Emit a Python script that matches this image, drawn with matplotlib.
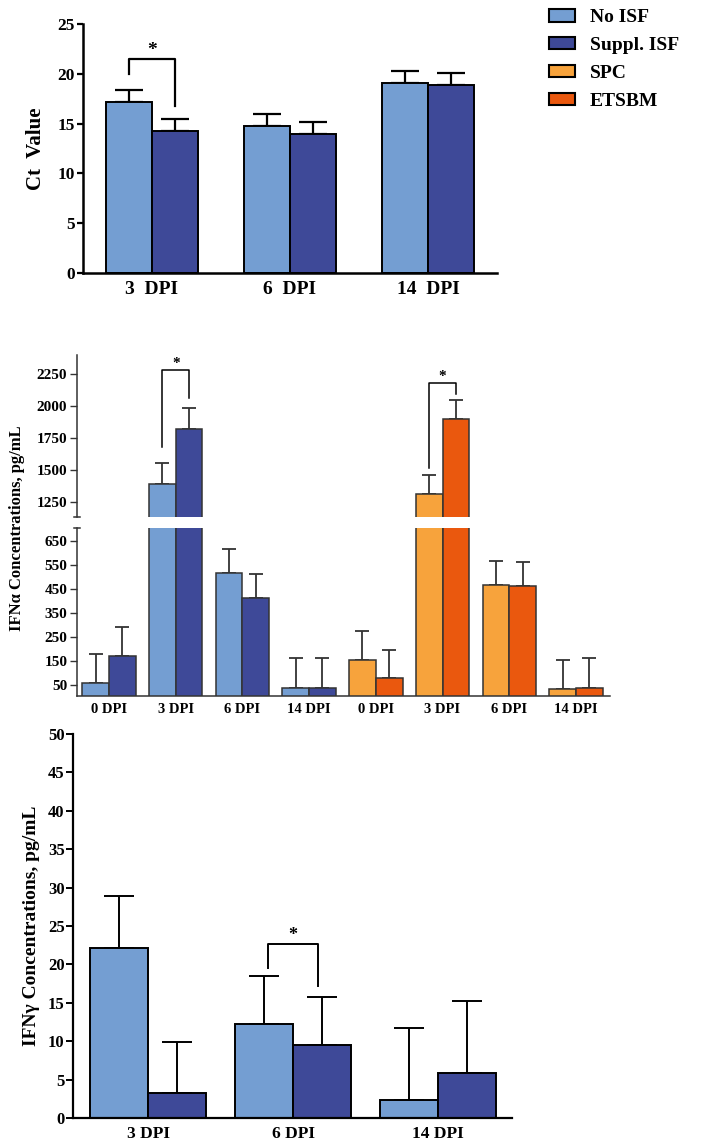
import numpy as np
import matplotlib
matplotlib.use("Agg")
import matplotlib.pyplot as plt
from matplotlib.patches import Patch

plt.rcParams['font.family'] = ['Liberation Serif', 'DejaVu Serif']
plt.rcParams['font.weight'] = 'bold'

# colours
c_noisf = '#749ED2'
c_suppl = '#3E4998'
c_spc = '#F7A33C'
c_etsbm = '#EA580E'

# ---- Ct values ----
ct_labels = ['3  DPI', '6  DPI', '14  DPI']
ct_noisf = [17.2, 14.8, 19.1]
ct_noisf_err = [1.2, 1.2, 1.2]
ct_suppl = [14.3, 14.0, 18.9]
ct_suppl_err = [1.2, 1.2, 1.2]

# ---- IFN alpha ----
ifna_labels = ['0 DPI', '3 DPI', '6 DPI', '14 DPI', '0 DPI', '3 DPI', '6 DPI', '14 DPI']
ifna_noisf = [60, 1390, 517, 37]
ifna_noisf_err = [121, 165, 100, 125]
ifna_suppl = [170, 1820, 412, 37]
ifna_suppl_err = [121, 164, 100, 125]
ifna_spc = [154, 1312, 467, 33]
ifna_spc_err = [121, 149, 100, 121]
ifna_etsbm = [78, 1898, 462, 37]
ifna_etsbm_err = [118, 149, 100, 125]

# ---- IFN gamma ----
ifng_labels = ['3 DPI', '6 DPI', '14 DPI']
ifng_noisf = [22.2, 12.2, 2.3]
ifng_noisf_err = [6.7, 6.3, 9.4]
ifng_suppl = [3.3, 9.5, 5.8]
ifng_suppl_err = [6.6, 6.2, 9.4]

fig = plt.figure(figsize=(7.14, 11.48), dpi=100)


def bracket(ax, xc, off, yl, yt, yr, lw, fs):
    ax.plot([xc - off, xc - off, xc + off, xc + off], [yl, yt, yt, yr],
            color='black', lw=lw, clip_on=False)
    ax.text(xc, yt, '*', ha='center', va='bottom', fontsize=fs, fontweight='bold')


def pair(ax, x, v1, e1, v2, e2, w, col1, col2, lw, elw, cap, ec):
    ax.bar(x - w / 2, v1, w, color=col1, edgecolor=ec, linewidth=lw, zorder=2)
    ax.bar(x + w / 2, v2, w, color=col2, edgecolor=ec, linewidth=lw, zorder=2)
    ax.errorbar(x - w / 2, v1, yerr=[np.zeros(len(v1)), e1], fmt='none',
                ecolor=ec, elinewidth=elw, capsize=cap, capthick=elw, zorder=1)
    ax.errorbar(x + w / 2, v2, yerr=[np.zeros(len(v2)), e2], fmt='none',
                ecolor=ec, elinewidth=elw, capsize=cap, capthick=elw, zorder=1)


# ================= top panel =================
ax1 = fig.add_axes([0.1162, 0.7622, 0.5798, 0.2169])
x1 = np.arange(len(ct_labels))
w1 = 0.333
pair(ax1, x1, ct_noisf, ct_noisf_err, ct_suppl, ct_suppl_err, w1,
     c_noisf, c_suppl, 1.4, 1.6, 10, 'black')
ax1.set_xlim(-0.5, 2.5)
ax1.set_ylim(0, 25)
ax1.set_yticks([0, 5, 10, 15, 20, 25])
ax1.set_xticks(x1)
ax1.set_xticklabels(ct_labels, fontsize=14, fontweight='bold')
ax1.tick_params(axis='x', length=0, pad=6)
ax1.tick_params(axis='y', length=4, width=1.6, labelsize=12.5, pad=2)
for s in ['top', 'right']:
    ax1.spines[s].set_visible(False)
for s in ['left', 'bottom']:
    ax1.spines[s].set_linewidth(1.8)
ax1.set_ylabel('Ct  Value', fontsize=15, fontweight='bold', labelpad=8)
bracket(ax1, x1[0], 0.17, 20.0, 21.5, 16.8, 1.6, 14)

# ================= middle panel (broken axis) =================
ax_up = fig.add_axes([0.1078, 0.5497, 0.7465, 0.1411])
ax_lo = fig.add_axes([0.1078, 0.3937, 0.7465, 0.1463])
x2 = np.arange(len(ifna_labels))
w2 = 0.4
xb = x2[:4]
xo = x2[4:]
for ax in (ax_up, ax_lo):
    pair(ax, xb, ifna_noisf, ifna_noisf_err, ifna_suppl, ifna_suppl_err, w2,
         c_noisf, c_suppl, 1.1, 1.3, 5, '#333333')
    pair(ax, xo, ifna_spc, ifna_spc_err, ifna_etsbm, ifna_etsbm_err, w2,
         c_spc, c_etsbm, 1.1, 1.3, 5, '#333333')
    ax.set_xlim(-0.48, 7.51)
    for s in ['top', 'right']:
        ax.spines[s].set_visible(False)
    for s in ['left', 'bottom']:
        ax.spines[s].set_linewidth(1.1)
        ax.spines[s].set_color('#333333')
    ax.tick_params(axis='y', length=5, width=1.0, color='#333333', labelsize=11, pad=2)

ax_up.set_ylim(1133, 2398)
ax_up.set_yticks([1250, 1500, 1750, 2000, 2250])
ax_up.spines['bottom'].set_visible(False)
ax_up.set_xticks([])
ax_lo.set_ylim(4, 704)
ax_lo.set_yticks([50, 150, 250, 350, 450, 550, 650])
ax_lo.set_xticks(x2)
ax_lo.set_xticklabels(ifna_labels, fontsize=10.5, fontweight='bold')
ax_lo.tick_params(axis='x', length=0, pad=5)
# break caps on the spine
ax_up.plot([-0.006, 0.006], [0, 0], transform=ax_up.transAxes, color='#333333',
           lw=1.1, clip_on=False)
ax_lo.plot([-0.006, 0.006], [1, 1], transform=ax_lo.transAxes, color='#333333',
           lw=1.1, clip_on=False)
bracket(ax_up, xb[1], 0.2, 1680, 2281, 2062, 1.1, 11)
bracket(ax_up, xo[1], 0.2, 1515, 2180, 2094, 1.1, 11)
fig.text(0.024, 0.54, 'IFN\u03b1 Concentrations, pg/mL', rotation=90,
         ha='center', va='center', fontsize=12, fontweight='bold')

# ================= bottom panel =================
ax3 = fig.add_axes([0.1022, 0.0261, 0.6148, 0.3345])
x3 = np.arange(len(ifng_labels))
w3 = 0.4
pair(ax3, x3, ifng_noisf, ifng_noisf_err, ifng_suppl, ifng_suppl_err, w3,
     c_noisf, c_suppl, 1.4, 1.4, 11, 'black')
ax3.set_xlim(-0.52, 2.51)
ax3.set_ylim(0, 50)
ax3.set_yticks(np.arange(0, 51, 5))
ax3.set_xticks(x3)
ax3.set_xticklabels(ifng_labels, fontsize=12.5, fontweight='bold')
ax3.tick_params(axis='x', length=0, pad=6)
ax3.tick_params(axis='y', length=5, width=1.4, labelsize=12, pad=1)
for s in ['top', 'right']:
    ax3.spines[s].set_visible(False)
for s in ['left', 'bottom']:
    ax3.spines[s].set_linewidth(1.6)
ax3.set_ylabel('IFN\u03b3 Concentrations, pg/mL', fontsize=14, fontweight='bold', labelpad=6)
bracket(ax3, x3[1], 0.172, 19.6, 22.7, 17.2, 1.4, 13)

# ================= legend =================
handles = [Patch(facecolor=c, edgecolor='black', linewidth=1.5)
           for c in (c_noisf, c_suppl, c_spc, c_etsbm)]
fig.legend(handles, ['No ISF', 'Suppl. ISF', 'SPC', 'ETSBM'],
           loc='upper left', bbox_to_anchor=(549 / 714, 1 - 9 / 1148),
           frameon=False, borderpad=0, borderaxespad=0,
           handlelength=1.35, handleheight=0.62, handletextpad=0.75,
           labelspacing=0.55, prop={'size': 14, 'weight': 'bold'})

fig.savefig('out.png', dpi=100)
